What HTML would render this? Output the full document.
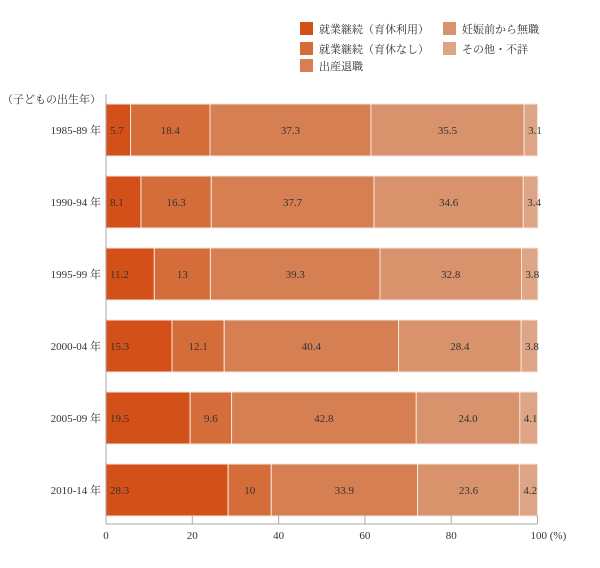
<!DOCTYPE html>
<html><head><meta charset="utf-8"><style>
body{margin:0;background:#fff;}
svg text{font-family:"Liberation Serif","Noto Serif CJK JP","Noto Serif CJK SC",serif;font-size:11px;fill:#333;}
</style></head><body>
<svg id="chart" width="600" height="563"></svg>
<script>
const categories=["1985-89 年","1990-94 年","1995-99 年","2000-04 年","2005-09 年","2010-14 年"];
const seriesNames=["就業継続（育休利用）","就業継続（育休なし）","出産退職","妊娠前から無職","その他・不詳"];
const s1=[5.7,8.1,11.2,15.3,19.5,28.3];
const s2=[18.4,16.3,13,12.1,9.6,10];
const s3=[37.3,37.7,39.3,40.4,42.8,33.9];
const s4=[35.5,34.6,32.8,28.4,24.0,23.6];
const s5=[3.1,3.4,3.8,3.8,4.1,4.2];
const labels1=["5.7","8.1","11.2","15.3","19.5","28.3"];
const labels2=["18.4","16.3","13","12.1","9.6","10"];
const labels3=["37.3","37.7","39.3","40.4","42.8","33.9"];
const labels4=["35.5","34.6","32.8","28.4","24.0","23.6"];
const labels5=["3.1","3.4","3.8","3.8","4.1","4.2"];
const ticks=[0,20,40,60,80,100];
const colors=["#d35118","#d56d3a","#d67f52","#d9936c","#dda585"];
const NS="http://www.w3.org/2000/svg";
const svg=document.getElementById("chart");
const x0=106,x1=537.5;
const xs=v=>x0+(x1-x0)*v/100;
const ys=i=>104+i*72;
const bh=52;
function el(tag,attrs,parent){const e=document.createElementNS(NS,tag);for(const k in attrs)e.setAttribute(k,attrs[k]);(parent||svg).appendChild(e);return e;}
const series=[s1,s2,s3,s4,s5];
const labs=[labels1,labels2,labels3,labels4,labels5];
const names=["employed-leave","employed-no-leave","quit-at-birth","unemployed-before","other"];
// legend
const legPos=[[300,22],[300,42],[300,59],[443,22],[443,42]];
seriesNames.forEach((n,k)=>{
 const g=el("g",{});
 
 
 el("rect",{x:legPos[k][0],y:legPos[k][1],width:13,height:13,fill:colors[k]},g);
 const t=el("text",{x:legPos[k][0]+19,y:legPos[k][1]+11},g);t.textContent=n;
});
// bars
categories.forEach((c,i)=>{
 const y=ys(i);
 const lt=el("text",{x:101,y:y+bh/2+4,"text-anchor":"end"});
 
 
 lt.textContent=c;
 let acc=0;
 series.forEach((s,k)=>{
  const v=s[i];
  const r=el("rect",{x:xs(acc),y:y,width:xs(acc+v)-xs(acc),height:bh,fill:colors[k],stroke:"#f6e6dc","stroke-width":1});
  
  
  const left=(k===0||k===4);
  const t=el("text",{x:left?xs(acc)+4:(xs(acc)+xs(acc+v))/2,y:y+bh/2+4,"text-anchor":left?"start":"middle"});
  
  
  t.textContent=labs[k][i];
  acc+=v;
 });
});
const yt=el("text",{x:101,y:103,"text-anchor":"end"});


yt.textContent="（子どもの出生年）";
// axes
const ya=el("line",{x1:x0,y1:94,x2:x0,y2:524,stroke:"#aaa"});


const xa=el("line",{x1:x0,y1:524,x2:x1,y2:524,stroke:"#aaa"});


ticks.forEach(v=>{
 el("line",{x1:xs(v),y1:515,x2:xs(v),y2:524,stroke:"#aaa"});
 const t=el("text",{x:xs(v),y:539,"text-anchor":v===100?"start":"middle"});
 if(v===100)t.setAttribute("x",xs(v)-7);
 
 
 t.textContent=v===100?"100 (%)":String(v);
});
</script>
</body></html>
